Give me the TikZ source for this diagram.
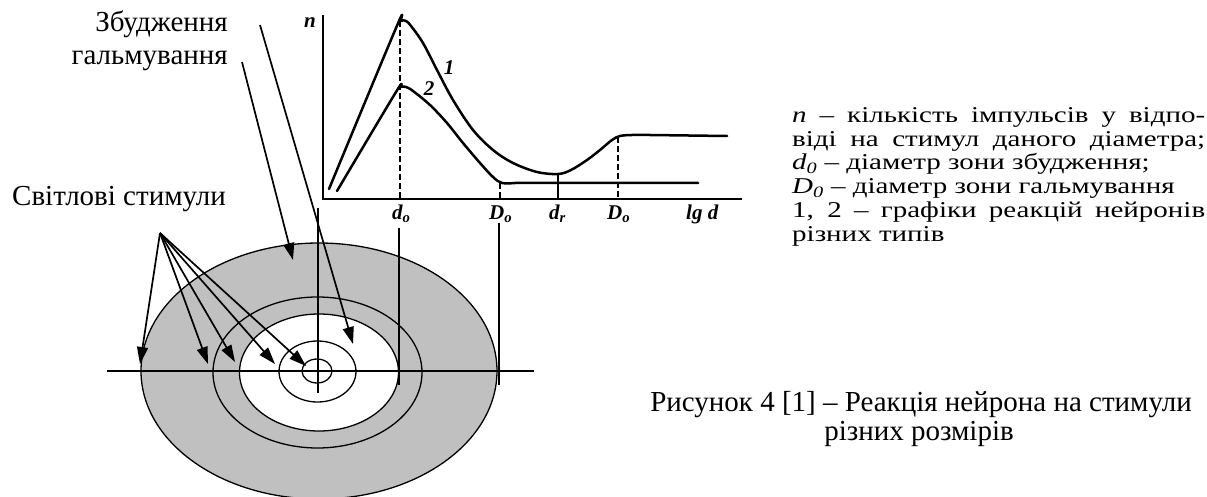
\documentclass[tikz,border=0pt]{standalone}
\usepackage{graphicx}
\usepackage{fontspec}
\setmainfont{Liberation Serif}
\usetikzlibrary{arrows.meta}
\definecolor{zonegray}{HTML}{C0C0C0}
\newcommand{\legline}[1]{\scalebox{1}[0.78]{#1}}
\begin{document}
\begin{tikzpicture}[x=1pt,y=-1pt,
  ring/.style={line width=1.3pt},
  arr/.style={line width=1.7pt,-{Triangle[length=17pt,width=11pt]}},
  thinl/.style={line width=1.3pt},
  crv/.style={line width=2.5pt,line join=round,line cap=round},
  axisl/.style={line width=1.9pt},
  dsh/.style={line width=1.7pt,dash pattern=on 6pt off 3pt},
  txt/.style={font=\fontsize{29}{33}\selectfont,inner sep=0pt},
  glab/.style={font=\fontsize{21}{21}\selectfont\bfseries\itshape,inner sep=0pt}]
\useasboundingbox (0,0) rectangle (1207,497);
% ---- receptive field ----
\fill[zonegray] (319,371) ellipse [x radius=178pt, y radius=128pt];
\draw[ring] (319,371) ellipse [x radius=178pt, y radius=128pt];
\draw[ring] (317.5,372.5) ellipse [x radius=104.5pt, y radius=75.5pt];
\draw[ring,fill=white] (319,372.5) ellipse [x radius=79.5pt, y radius=58.5pt];
\draw[ring] (317.5,371.5) ellipse [x radius=38.5pt, y radius=30.5pt];
\draw[ring] (317,371) ellipse [x radius=15pt, y radius=12pt];
\coordinate (hL) at (107,371);
\coordinate (hR) at (534,371);
\draw[thinl] (hL) -- (hR);
\coordinate (vT) at (318,208);
\coordinate (vB) at (318,393);
\draw[thinl] (vT) -- (vB);
\coordinate (d0T) at (399,228);
\coordinate (d0B) at (399,385);
\draw[thinl] (d0T) -- (d0B);
\coordinate (D0T) at (499,223);
\coordinate (D0B) at (499,385);
\draw[thinl] (D0T) -- (D0B);
% ---- labels left ----
\node[txt,anchor=base east] (exc) at (228,32) {Збудження};
\node[txt,anchor=base east] (inh) at (228,65) {гальмування};
\node[txt,anchor=base west] (stim) at (12,206) {Світлові стимули};
% ---- arrows ----
\coordinate (sO) at (160,233);
\coordinate (t1) at (140,364);
\coordinate (t2) at (208,364);
\coordinate (t3) at (235,362);
\coordinate (t4) at (275,364);
\coordinate (t5) at (306,366);
\foreach \t in {t1,t2,t3,t4,t5} \draw[arr] (sO) -- (\t);
\coordinate (eO) at (260,25);
\coordinate (eT) at (353,344);
\draw[arr] (eO) -- (eT);
\coordinate (iO) at (242,62);
\coordinate (iT) at (293,260);
\draw[arr] (iO) -- (iT);
% ---- graph ----
\coordinate (yTop) at (323,15);
\coordinate (org) at (323,199);
\coordinate (xEnd) at (742,199);
\draw[axisl] (yTop) -- (org) -- (xEnd);
\draw[crv] plot[smooth,tension=0.55] coordinates {(329,189) (396,28) (401,21) (406,21) (411,26) (423,43) (437,70) (453,100) (473,130) (493,150) (513,163) (537,172) (558,174) (571,170) (587,160) (600,150) (612,140) (620,136) (632,135) (650,135)} -- (727,136);
\draw[crv] plot[smooth,tension=0.55] coordinates {(337,191) (396,92) (401,87) (406,87) (413,91) (430,105) (447,123) (463,143) (480,163) (493,177) (502,183) (515,183)} -- (698,183);
\coordinate (pk1) at (400,21);
\coordinate (b1) at (400,199);
\draw[dsh] (pk1) -- (b1);
\coordinate (k2) at (500,183);
\coordinate (b2) at (500,199);
\draw[dsh] (k2) -- (b2);
\coordinate (mn) at (558,174);
\coordinate (b3) at (558,199);
\draw[line width=1.7pt] (mn) -- (b3);
\coordinate (k1) at (618,137);
\coordinate (b4) at (618,199);
\draw[dsh] (k1) -- (b4);
\node[glab,anchor=base] (nlab) at (310,28) {n};
\node[glab,anchor=base] (c1) at (449,75) {1};
\node[glab,anchor=base] (c2) at (429,96) {2};
\node[glab,anchor=base west] (ld0) at (392,219) {d\textsubscript{o}};
\node[glab,anchor=base west] (lD0) at (489,219) {D\textsubscript{o}};
\node[glab,anchor=base west] (ldr) at (549,219) {d\textsubscript{r}};
\node[glab,anchor=base west] (lD0b) at (607,219) {D\textsubscript{o}};
\node[glab,anchor=base west] (llg) at (686,219) {lg d};
% ---- legend ----
\node[txt,anchor=base west] (L1) at (792,123) {\legline{\makebox[413pt][s]{\textit{n} – кількість імпульсів у відпо-}}};
\node[txt,anchor=base west] (L2) at (792,147) {\legline{\makebox[413pt][s]{віді на стимул даного діаметра;}}};
\node[txt,anchor=base west] (L3) at (792,170) {\legline{\textit{d\textsubscript{0}} – діаметр зони збудження;}};
\node[txt,anchor=base west] (L4) at (792,194) {\legline{\textit{D\textsubscript{0}} – діаметр зони гальмування}};
\node[txt,anchor=base west] (L5) at (792,218) {\legline{\makebox[413pt][s]{1, 2 – графіки реакцій нейронів}}};
\node[txt,anchor=base west] (L6) at (792,241) {\legline{різних типів}};
% ---- caption ----
\node[txt,anchor=base east] (cap1) at (1192,411) {Рисунок 4 [1] – Реакція нейрона на стимули};
\node[txt,anchor=base] (cap2) at (919,440) {різних розмірів};
\end{tikzpicture}
\end{document}
